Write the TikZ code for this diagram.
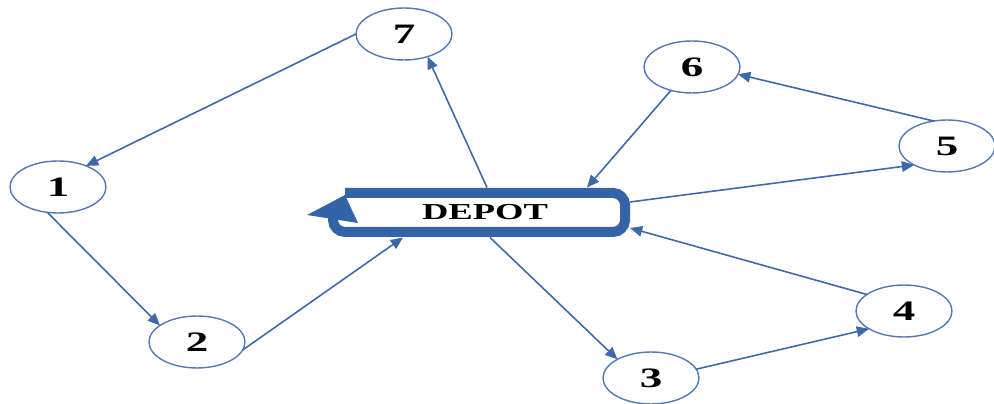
\documentclass[tikz,border=0pt]{standalone}
\usepackage{fontspec}
\setmainfont{Liberation Serif}
\usetikzlibrary{shapes.geometric,arrows.meta}
\definecolor{edgeblue}{RGB}{62,104,168}
\definecolor{nodeblue}{RGB}{84,120,180}
\definecolor{depotblue}{RGB}{52,100,168}
\tikzset{
  stop/.style={ellipse, draw=nodeblue, line width=0.8pt, minimum width=1.92cm, minimum height=1.04cm, inner sep=0pt, outer sep=0pt, font=\fontsize{16}{18}\selectfont\bfseries},
  conn/.style={draw=edgeblue, line width=0.9pt, -{Triangle[length=7pt,width=6pt]}},
}
\newcommand{\wide}[1]{\scalebox{1.6}[1]{#1}}
\begin{document}
\begin{tikzpicture}[x=0.02cm,y=-0.02cm]
\useasboundingbox (0,0) rectangle (994,404);
% depot shape
\draw[depotblue, line width=0.2cm, rounded corners=0.24cm] (345,193) -- (625,193) -- (625,232) -- (333,232) -- (333,212);
\fill[depotblue] (307,215) -- (345,195) -- (358,223) -- cycle;
\node[minimum width=5.8cm, minimum height=1cm, inner sep=0pt, outer sep=0pt, font=\fontsize{13}{14}\selectfont\bfseries] (depot) at (485,212.5) {\raisebox{-1.5pt}{\wide{DEPOT}}};
% stops
\node[stop] (n1) at (58,187) {\wide{1}};
\node[stop] (n2) at (197,342) {\wide{2}};
\node[stop] (n3) at (651,378) {\wide{3}};
\node[stop] (n4) at (904,311) {\wide{4}};
\node[stop] (n5) at (947,146) {\wide{5}};
\node[stop] (n6) at (692,67) {\wide{6}};
\node[stop] (n7) at (404,34) {\wide{7}};
% connectors
\draw[conn] (n7.west) -- (n1.37);
\draw[conn] (n1.-113) -- (n2.156);
\draw[conn] (n2.-10) -- ([xshift=-1.64cm]depot.south);
\draw[conn] ([xshift=0.04cm]depot.north) -- (n7.-44);
\draw[conn] (n6.-132) -- ([xshift=2.04cm]depot.north);
\draw[conn] ([yshift=0.21cm]depot.east) -- (n5.-150);
\draw[conn] (n5.118) -- (n6.-9);
\draw[conn] ([xshift=0.1cm]depot.south) -- (n3.151);
\draw[conn] (n3.11) -- (n4.-153);
\draw[conn] (n4.156) -- ([yshift=-0.31cm]depot.east);
\end{tikzpicture}
\end{document}
